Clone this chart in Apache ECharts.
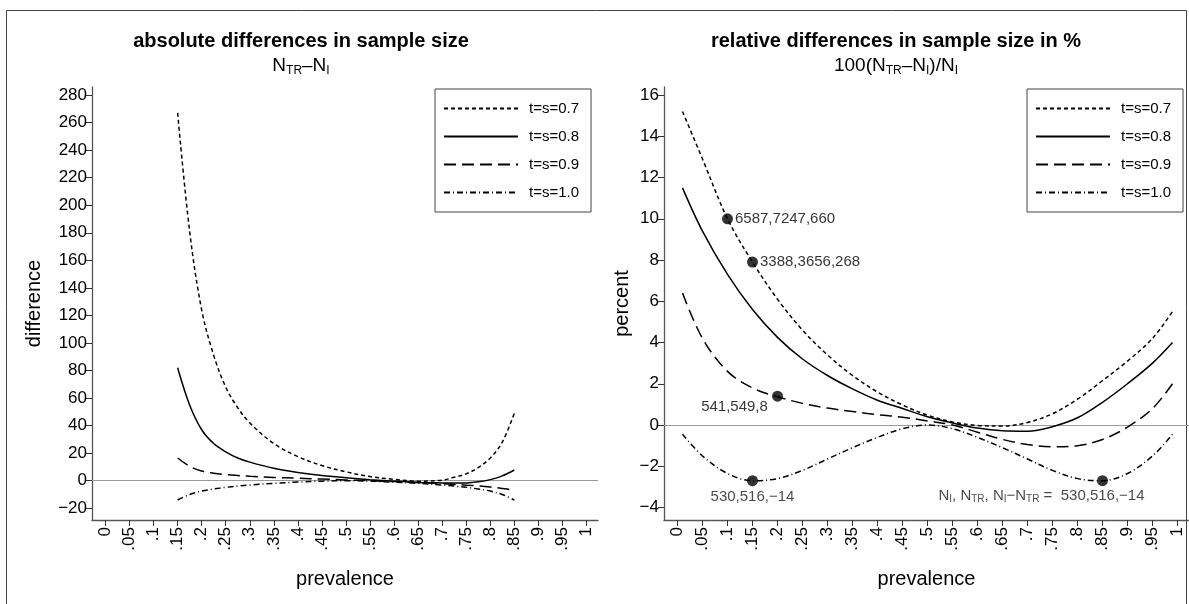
<!DOCTYPE html>
<html>
<head>
<meta charset="utf-8">
<script src="https://cdn.jsdelivr.net/npm/echarts@6/dist/echarts.min.js"></script>
<style>html,body{margin:0;padding:0;background:#fff}#c{width:1189px;height:604px}</style>
</head>
<body>
<div id="c"></div>
<script>
// ---------- data ----------
const seriesNames = ['t=s=0.7', 't=s=0.8', 't=s=0.9', 't=s=1.0'];

const xTickValues = [0, 0.05, 0.1, 0.15, 0.2, 0.25, 0.3, 0.35, 0.4, 0.45, 0.5, 0.55, 0.6, 0.65, 0.7, 0.75, 0.8, 0.85, 0.9, 0.95, 1];
const xTickLabels = ['0', '.05', '.1', '.15', '.2', '.25', '.3', '.35', '.4', '.45', '.5', '.55', '.6', '.65', '.7', '.75', '.8', '.85', '.9', '.95', '1'];
const yTicksAbs = [-20, 0, 20, 40, 60, 80, 100, 120, 140, 160, 180, 200, 220, 240, 260, 280];
const yTicksRel = [-4, -2, 0, 2, 4, 6, 8, 10, 12, 14, 16];

// left panel: absolute differences N_TR - N_I
const absPrev = [0.15, 0.175, 0.2, 0.225, 0.25, 0.275, 0.3, 0.35, 0.4, 0.45, 0.5, 0.55, 0.6, 0.65, 0.7, 0.725, 0.75, 0.775, 0.8, 0.825, 0.85];
const absT07 = [267, 181, 124, 91, 68, 53, 42, 27, 17.5, 11, 6.5, 3, 1, -0.3, 0.4, 2.5, 5, 9.5, 16.5, 28, 49];
const absT08 = [82, 55, 37, 27, 21, 16.5, 13.5, 9, 6, 3.8, 2.2, 0.8, -0.3, -1.2, -1.6, -1.7, -1.6, -0.8, 0.8, 3.5, 7.8];
const absT09 = [16.5, 10.5, 7, 5.5, 4.5, 3.8, 3.2, 2.4, 1.8, 1.2, 0.6, 0, -0.6, -1.3, -2.2, -2.7, -3.2, -3.8, -4.6, -5.6, -6.8];
const absT10 = [-14, -10, -7.5, -6, -4.8, -3.9, -3.1, -1.9, -1.0, -0.3, 0, -0.3, -1.0, -1.9, -3.1, -3.9, -4.8, -6, -7.5, -10, -14];

// right panel: relative differences in %
const relPrev = [0.01, 0.05, 0.1, 0.15, 0.2, 0.25, 0.3, 0.35, 0.4, 0.45, 0.5, 0.55, 0.6, 0.65, 0.7, 0.75, 0.8, 0.85, 0.9, 0.95, 0.99];
const relT07 = [15.2, 12.9, 10.0, 7.9, 6.1, 4.6, 3.4, 2.4, 1.6, 0.97, 0.48, 0.15, -0.02, -0.05, 0.12, 0.55, 1.25, 2.15, 3.1, 4.2, 5.5];
const relT08 = [11.5, 9.4, 7.3, 5.6, 4.25, 3.2, 2.4, 1.75, 1.2, 0.8, 0.4, 0.1, -0.15, -0.28, -0.3, -0.08, 0.35, 1.1, 2.0, 3.0, 4.0];
const relT09 = [6.4, 4.2, 2.6, 1.8, 1.37, 1.05, 0.82, 0.65, 0.5, 0.38, 0.2, 0.0, -0.35, -0.7, -0.95, -1.05, -1.0, -0.7, -0.1, 0.8, 2.0];
const relT10 = [-0.45, -1.5, -2.35, -2.7, -2.6, -2.2, -1.65, -1.1, -0.6, -0.18, 0, -0.18, -0.6, -1.1, -1.65, -2.2, -2.6, -2.7, -2.35, -1.5, -0.45];

// marked points (right panel)
const dotPrev = [0.1, 0.15, 0.2, 0.15, 0.85];
const dotPct = [10.0, 7.9, 1.4, -2.7, -2.7];
const dotText = ['6587,7247,660', '3388,3656,268', '541,549,8', '530,516,\u221214', '530,516,\u221214'];

// ---------- styling ----------
const FONT = '"Liberation Sans", Arial, Helvetica, sans-serif';
const lineTypes = [[4, 3], 'solid', [12, 6], [6, 3, 1, 3]];
const dotLabelStyle = [
  { position: 'right', distance: 2, color: '#000' },
  { position: 'right', distance: 2, color: '#000' },
  { position: 'inside', offset: [-43, 11], color: '#000' },
  { position: 'inside', offset: [0, 16], color: '#1a1a1a' },
  { position: 'inside', offset: [-61, 15], color: '#1a1a1a', prefix: true }
];

const fmtNum = v => (v < 0 ? '\u2212' + Math.abs(v) : String(v));
const fmtX = v => xTickLabels[Math.round(v / 0.05)];

function axisX(gridIndex, min, max) {
  return {
    type: 'value', gridIndex, min, max,
    name: 'prevalence', nameLocation: 'middle', nameGap: 49,
    nameTextStyle: { fontFamily: FONT, fontSize: 20, color: '#000' },
    axisLine: { show: true, onZero: false, lineStyle: { color: '#555', width: 1.3 } },
    axisTick: { show: true, customValues: xTickValues, length: 6, lineStyle: { color: '#333', width: 1 } },
    axisLabel: { show: true, customValues: xTickValues, formatter: fmtX, rotate: 90, margin: 7,
      fontFamily: FONT, fontSize: 17, color: '#000' },
    splitLine: { show: false }
  };
}
function axisY(gridIndex, min, max, ticks, name, gap) {
  return {
    type: 'value', gridIndex, min, max,
    name, nameLocation: 'middle', nameGap: gap, nameRotate: 90,
    nameTextStyle: { fontFamily: FONT, fontSize: 20, color: '#000' },
    axisLine: { show: true, onZero: false, lineStyle: { color: '#555', width: 1.3 } },
    axisTick: { show: true, customValues: ticks, length: 6, lineStyle: { color: '#333', width: 1 } },
    axisLabel: { show: true, customValues: ticks, formatter: fmtNum, margin: 5,
      fontFamily: FONT, fontSize: 17, color: '#000' },
    splitLine: { show: false }
  };
}

function lineSeries(name, idx, gridIdx, xs, ys, zeroLine) {
  const s = {
    type: 'line', name, xAxisIndex: gridIdx, yAxisIndex: gridIdx,
    data: xs.map((p, i) => [p, ys[i]]),
    showSymbol: false, symbol: 'none', smooth: 0.35,
    lineStyle: { color: '#000', width: 1.5, type: lineTypes[idx] },
    itemStyle: { color: '#000' },
    z: 3, silent: true
  };
  if (zeroLine) {
    s.markLine = {
      silent: true, symbol: 'none', label: { show: false },
      lineStyle: { color: '#9a9a9a', width: 1, type: 'solid' },
      data: [{ yAxis: 0 }], z: 1
    };
  }
  return s;
}

const absData = [absT07, absT08, absT09, absT10];
const relData = [relT07, relT08, relT09, relT10];
const series = [];
seriesNames.forEach((n, i) => series.push(lineSeries(n, i, 0, absPrev, absData[i], i === 0)));
seriesNames.forEach((n, i) => series.push(lineSeries(n, i, 1, relPrev, relData[i], i === 0)));

series.push({
  type: 'scatter', name: 'marks', xAxisIndex: 1, yAxisIndex: 1,
  symbol: 'circle', symbolSize: 11, itemStyle: { color: '#000' }, z: 5, silent: true,
  data: dotPrev.map((p, i) => {
    const st = dotLabelStyle[i];
    const txt = st.prefix
      ? '{n|N}{s|I}{n|, N}{s|TR}{n|, N}{s|I}{n|\u2212N}{s|TR}{n| =  ' + dotText[i] + '}'
      : '{n|' + dotText[i] + '}';
    return {
      value: [p, dotPct[i]],
      label: {
        show: true, position: st.position, distance: st.distance, offset: st.offset,
        formatter: txt,
        rich: {
          n: { fontFamily: FONT, fontSize: 15, color: st.color },
          s: { fontFamily: FONT, fontSize: 10, color: st.color, verticalAlign: 'bottom', padding: [0, 0, -1, 0] }
        }
      }
    };
  })
});

function legendAt(left) {
  return {
    data: seriesNames, orient: 'vertical', left, top: 89, selectedMode: false,
    itemWidth: 74, itemHeight: 14, itemGap: 13,
    padding: [12, 12, 12, 8],
    borderColor: '#444', borderWidth: 1, backgroundColor: '#fff',
    itemStyle: { opacity: 0, color: 'rgba(0,0,0,0)', borderWidth: 0 },
    textStyle: { fontFamily: FONT, fontSize: 15, color: '#000', padding: [0, 0, 0, 6] }
  };
}

const subRich = {
  n: { fontFamily: FONT, fontSize: 19, fill: '#000' },
  s: { fontFamily: FONT, fontSize: 12, fill: '#000', verticalAlign: 'bottom', padding: [0, 0, -1, 0] }
};

const option = {
  animation: false,
  backgroundColor: '#fff',
  grid: [
    { left: 92, top: 87, width: 506, height: 433 },
    { left: 664, top: 87, width: 525, height: 433 }
  ],
  xAxis: [axisX(0, -0.028, 1.024), axisX(1, -0.027, 1.023)],
  yAxis: [
    axisY(0, -28.5, 285.8, yTicksAbs, 'difference', 48),
    axisY(1, -4.606, 16.39, yTicksRel, 'percent', 32)
  ],
  legend: [legendAt(435), legendAt(1027)],
  series,
  graphic: [
    { type: 'rect', silent: true, z: -10,
      shape: { x: 6.5, y: 10.5, width: 1180, height: 620 },
      style: { fill: 'none', stroke: '#444', lineWidth: 1 } },
    { type: 'text', x: 301, y: 41, silent: true,
      style: { text: 'absolute differences in sample size', align: 'center', verticalAlign: 'middle',
        fontFamily: FONT, fontSize: 20, fontWeight: 'bold', fill: '#000' } },
    { type: 'text', x: 301, y: 66, silent: true,
      style: { text: '{n|N}{s|TR}{n|\u2013N}{s|I}', align: 'center', verticalAlign: 'middle', rich: subRich } },
    { type: 'text', x: 896, y: 41, silent: true,
      style: { text: 'relative differences in sample size in %', align: 'center', verticalAlign: 'middle',
        fontFamily: FONT, fontSize: 20, fontWeight: 'bold', fill: '#000' } },
    { type: 'text', x: 896, y: 66, silent: true,
      style: { text: '{n|100(N}{s|TR}{n|\u2013N}{s|I}{n|)/N}{s|I}', align: 'center', verticalAlign: 'middle', rich: subRich } }
  ]
};

const chart = echarts.init(document.getElementById('c'));
chart.setOption(option);
</script>
</body>
</html>
